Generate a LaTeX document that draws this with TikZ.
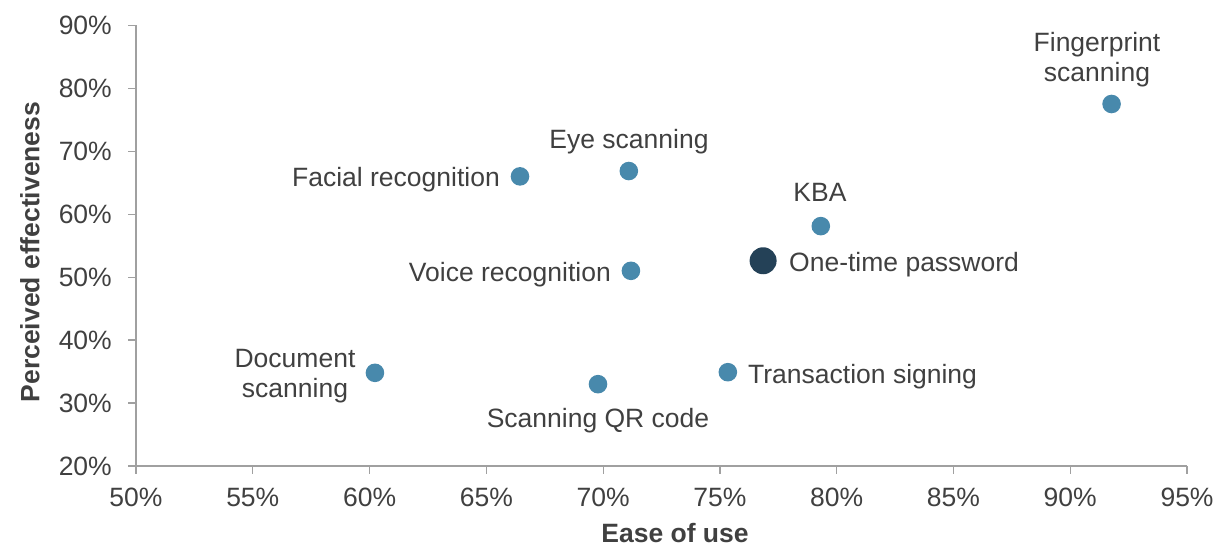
\documentclass[tikz,border=0pt]{standalone}
\usepackage{fontspec}
\setmainfont{Liberation Sans}
\definecolor{dotblue}{RGB}{72,137,172}
\definecolor{dotdark}{RGB}{36,65,87}
\definecolor{txt}{RGB}{64,64,64}
\definecolor{axisgray}{RGB}{160,160,160}
\tikzset{
  lbl/.style={inner sep=0pt, text=txt, font=\fontsize{26.5}{30}\selectfont},
  axtitle/.style={inner sep=0pt, text=txt, font=\fontsize{26.5}{30}\selectfont\bfseries},
  axline/.style={draw=axisgray, line width=1.2pt},
  dot/.style={circle, fill=dotblue, inner sep=0pt, minimum size=18.6pt},
  bigdot/.style={circle, fill=dotdark, inner sep=0pt, minimum size=27pt},
}
\begin{document}
\begin{tikzpicture}[x=1pt, y=-1pt]
\useasboundingbox (0,0) rectangle (1220,546);
% data frame: origin at (50%, 20%)
\begin{scope}[shift={(136,466)}, x=23.356pt, y=6.296pt]
  \coordinate (o) at (0,0);
  \coordinate (xe) at (45,0);
  \coordinate (ye) at (0,70);
  % axes and ticks
  \draw[axline] (xe) -- (o) -- (ye);
  \foreach \v in {0,5,...,45} {
    \pgfmathtruncatemacro{\lab}{\v+50}
    \draw[axline] (\v,0) -- ++(0,-8pt);
    \node[lbl, anchor=base] at ([yshift=-40pt]\v,0) {\lab\%};
  }
  \foreach \v in {0,10,...,70} {
    \pgfmathtruncatemacro{\lab}{\v+20}
    \draw[axline] (0,\v) -- ++(-8pt,0);
    \node[lbl, anchor=base east] at ([xshift=-24pt,yshift=-9.3pt]0,\v) {\lab\%};
  }
  % points
  \node[dot] (fp)  at (41.77,57.5) {};
  \node[dot] (fr)  at (16.44,46.0) {};
  \node[dot] (eye) at (21.10,46.85) {};
  \node[dot] (kba) at (29.32,38.1) {};
  \node[bigdot] (otp) at (26.85,32.6) {};
  \node[dot] (vr)  at (21.19,31.0) {};
  \node[dot] (doc) at (10.23,14.8) {};
  \node[dot] (qr)  at (19.78,13.0) {};
  \node[dot] (ts)  at (25.34,14.9) {};
\end{scope}
% point labels (two-line labels are anchored on their last line)
\node[lbl, align=center, anchor=base] (fpl) at (1097,81) {Fingerprint\\scanning};
\node[lbl, anchor=base] (eyel) at (629,148) {Eye scanning};
\node[lbl, anchor=base east] (frl) at (500,186) {Facial recognition};
\node[lbl, anchor=base] (kbal) at (820,201) {KBA};
\node[lbl, anchor=base west] (otpl) at (789,271) {One-time password};
\node[lbl, anchor=base east] (vrl) at (611,281) {Voice recognition};
\node[lbl, align=center, anchor=base] (docl) at (295,397) {Document\\scanning};
\node[lbl, anchor=base] (qrl) at (598,427) {Scanning QR code};
\node[lbl, anchor=base west] (tsl) at (748,383) {Transaction signing};
% axis titles
\node[axtitle, anchor=base] (xt) at (675,542) {Ease of use};
\node[axtitle, rotate=90] (yt) at (30,252) {Perceived effectiveness};
\end{tikzpicture}
\end{document}
